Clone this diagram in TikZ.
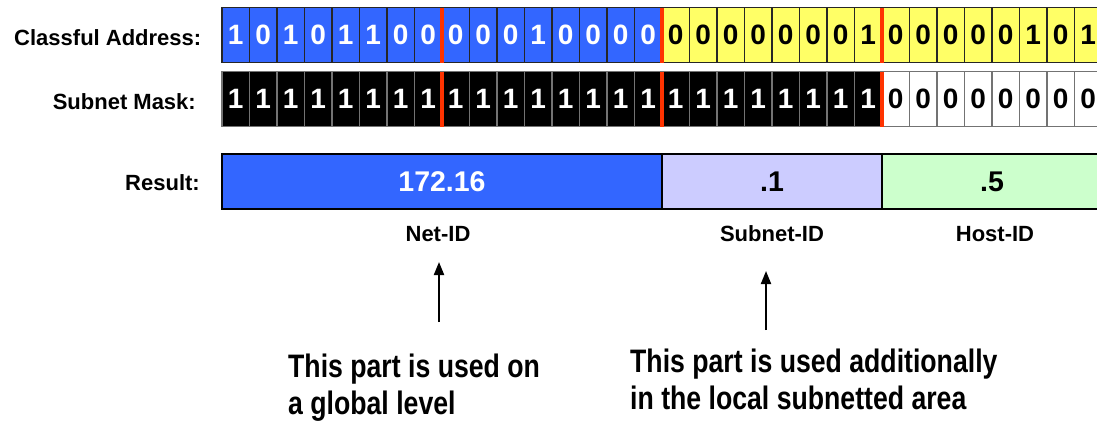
\documentclass[tikz,border=0pt]{standalone}
\usepackage{fontspec}
\setmainfont{Liberation Sans}
\newfontfamily\narrowfont[FakeStretch=0.82]{Liberation Sans}
\usetikzlibrary{arrows.meta}
\definecolor{netblue}{HTML}{3366FF}
\definecolor{hostyellow}{HTML}{FFFF66}
\definecolor{sublav}{HTML}{CCCCFF}
\definecolor{hostgreen}{HTML}{CCFFCC}
\definecolor{sepred}{HTML}{FF3300}
\begin{document}
\begin{tikzpicture}[x=1pt,y=-1pt,
  bitcell/.style={draw=black!85, line width=1.2pt, minimum width=27.5pt, minimum height=55pt,
    inner sep=0pt, outer sep=0pt, font=\bfseries\fontsize{28}{28}\selectfont},
  maskcell/.style={bitcell, draw=black!55},
  sepline/.style={draw=sepred, line width=4pt},
  resbox/.style={draw=black, line width=1.2pt, minimum height=55pt, inner sep=0pt, outer sep=0pt,
    font=\bfseries\fontsize{28.5}{28.5}\selectfont},
  rowlabel/.style={anchor=base east, inner sep=0pt, font=\bfseries\fontsize{22}{22}\selectfont},
  idlabel/.style={anchor=base, inner sep=0pt, font=\bfseries\fontsize{22}{22}\selectfont},
  note/.style={anchor=north west, inner sep=0pt, align=left,
    font=\narrowfont\bfseries\fontsize{32.5}{36.5}\selectfont},
  uparrow/.style={line width=2pt, -{Triangle[length=13pt,width=10pt]}}]
\path[use as bounding box, clip] (0,0) rectangle (1097,421);

% row labels
\node[rowlabel] (lblAddr) at (201.5,45) {Classful Address:};
\node[rowlabel] (lblMask) at (196,109.3) {Subnet Mask:};
\node[rowlabel] (lblRes) at (200,190) {Result:};

% classful address bits
\foreach \b [count=\i from 0] in {1,0,1,0,1,1,0,0,0,0,0,1,0,0,0,0,0,0,0,0,0,0,0,1,0,0,0,0,0,1,0,1}{
  \pgfmathsetmacro\xx{235.75+27.5*\i}
  \ifnum\i<16
    \node[bitcell, fill=netblue, text=white] (a\i) at (\xx,35) {\b};
  \else
    \node[bitcell, fill=hostyellow, text=black] (a\i) at (\xx,35) {\b};
  \fi
}
% subnet mask bits
\foreach \i in {0,...,31}{
  \pgfmathsetmacro\xx{235.75+27.5*\i}
  \ifnum\i<24
    \node[maskcell, fill=black, text=white] (m\i) at (\xx,99.2) {1};
  \else
    \node[maskcell, fill=white, text=black] (m\i) at (\xx,99.2) {0};
  \fi
}
% red separators
\foreach \k in {7,15,23}{
  \draw[sepline] (a\k.north east) -- (a\k.south east);
  \draw[sepline] (m\k.north east) -- (m\k.south east);
}

% result
\node[resbox, fill=netblue, text=white, minimum width=440pt] (net) at (442,181.5) {172.16};
\node[resbox, fill=sublav, text=black, minimum width=220pt] (subnet) at (772,181.5) {.1};
\node[resbox, fill=hostgreen, text=black, minimum width=220pt] (host) at (992,181.5) {.5};

\node[idlabel] (netid) at (438,241) {Net-ID};
\node[idlabel] (subnetid) at (772,241) {Subnet-ID};
\node[idlabel] (hostid) at (995,241) {Host-ID};

% notes
\node[note] (noteGlobal) at (288,354) {This part is used on\\a global level};
\node[note] (noteLocal) at (630,349) {This part is used additionally\\in the local subnetted area};

% arrows
\coordinate (arrAfrom) at (439,322);
\coordinate (arrAto) at (439,262);
\coordinate (arrBfrom) at (766,330);
\coordinate (arrBto) at (766,271);
\draw[uparrow] (arrAfrom) -- (arrAto);
\draw[uparrow] (arrBfrom) -- (arrBto);
\end{tikzpicture}
\end{document}
